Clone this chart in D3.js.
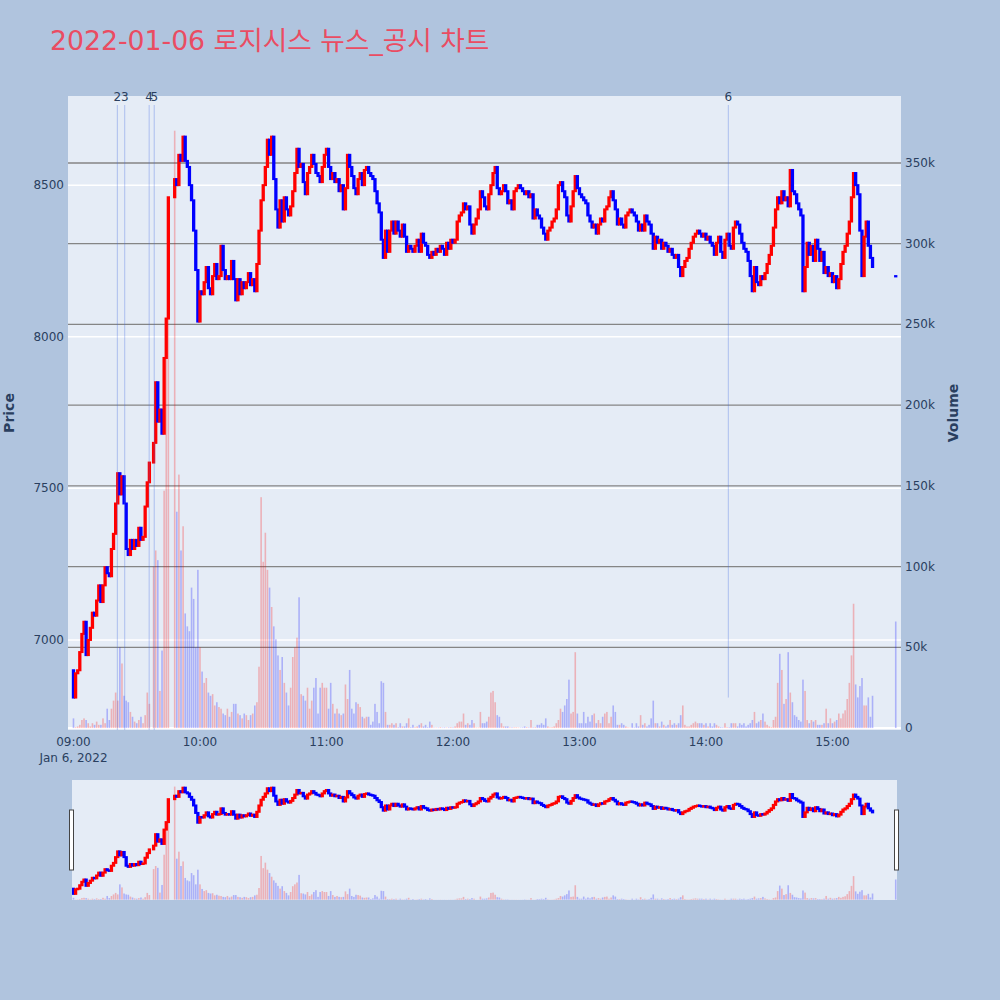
<!DOCTYPE html>
<html>
<head>
<meta charset="utf-8">
<script src="https://cdn.jsdelivr.net/npm/d3@7"></script>
<style>
  body { margin: 0; background: #b0c4de; }
  text { font-family: "DejaVu Sans", "Noto Sans CJK KR", sans-serif; }
</style>
</head>
<body>
<svg id="chart"></svg>
<script>
// one close per minute from 09:00, null = trading halt (VI)
const sessionStart = '2022-01-06 09:00:00';
const firstOpen = 6900;
const closes = [
  6810, 6890, 6900, 6960, 7020, 7060, 6950, 7000, 7040, 7090,
  7080, 7130, 7180, 7125, 7180, 7240, 7220, 7210, 7300, 7350,
  7450, 7550, 7480, 7540, 7450, 7300, 7280, 7330, 7300, 7330,
  7310, 7370, 7330, 7340, 7440, 7520, 7585, null, 7650, 7850,
  7720, 7760, 7680, 7930, 8060, 8460, null, null, 8520, 8500,
  8600, 8580, 8660, 8580, 8560, 8500, 8450, 8350, 8220, 8050,
  8150, 8140, 8180, 8230, 8160, 8140, 8200, 8240, 8190, 8200,
  8300, 8220, 8190, 8200, 8190, 8250, 8190, 8120, 8190, 8140,
  8180, 8160, 8180, 8210, 8170, 8190, 8150, 8240, 8350, 8450,
  8500, 8560, 8650, 8600, 8660, 8520, 8420, 8360, 8450, 8380,
  8460, 8420, 8400, 8430, 8480, 8540, 8620, 8560, 8570, 8510,
  8470, 8540, 8560, 8600, 8570, 8540, 8530, 8510, 8560, 8600,
  8620, 8560, 8520, 8540, 8510, 8520, 8480, 8500, 8420, 8490,
  8600, 8560, 8530, 8490, 8470, 8520, 8540, 8500, 8550, 8560,
  8540, 8530, 8520, 8480, 8440, 8410, 8320, 8260, 8350, 8280,
  8350, 8380, 8340, 8380, 8350, 8330, 8370, 8330, 8280, 8300,
  8290, 8280, 8300, 8320, 8280, 8340, 8310, 8300, 8270, 8260,
  8280, 8270, 8290, 8280, 8300, 8290, 8270, 8310, 8290, 8320,
  8310, 8320, 8380, 8400, 8410, 8440, 8420, 8430, 8370, 8340,
  8370, 8390, 8420, 8480, 8460, 8430, 8420, 8470, 8500, 8540,
  8560, 8490, 8470, 8480, 8500, 8480, 8440, 8450, 8420, 8480,
  8490, 8500, 8490, 8480, 8470, 8480, 8460, 8470, 8390, 8420,
  8400, 8390, 8360, 8340, 8320, 8350, 8360, 8380, 8390, 8420,
  8500, 8510, 8480, 8460, 8400, 8380, 8430, 8480, 8530, 8490,
  8470, 8460, 8450, 8440, 8400, 8380, 8360, 8370, 8340, 8370,
  8390, 8380, 8420, 8430, 8460, 8480, 8450, 8420, 8370, 8390,
  8370, 8360, 8400, 8410, 8420, 8410, 8400, 8380, 8350, 8370,
  8350, 8400, 8380, 8370, 8340, 8290, 8330, 8310, 8320, 8290,
  8310, 8300, 8280, 8290, 8270, 8260, 8270, 8230, 8200, 8230,
  8250, 8260, 8290, 8310, 8330, 8340, 8350, 8340, 8330, 8340,
  8320, 8330, 8310, 8300, 8270, 8310, 8330, 8280, 8260, 8320,
  8340, 8300, 8290, 8360, 8380, 8370, 8340, 8310, 8290, 8280,
  8250, 8200, 8150, 8230, 8180, 8170, 8200, 8190, 8210, 8240,
  8270, 8300, 8360, 8420, 8460, 8440, 8480, 8450, 8460, 8430,
  8550, 8480, 8470, 8440, 8420, 8400, 8150, 8230, 8310, 8270,
  8300, 8250, 8320, 8290, 8250, 8280, 8210, 8230, 8200, 8210,
  8180, 8200, 8160, 8190, 8240, 8280, 8300, 8340, 8380, 8460,
  8540, 8500, 8470, 8350, 8200, 8330, 8380, 8300, 8260, 8230
];
// volume per minute, thousands of shares
const volumes = [
  6, 0.5, 1, 2, 5, 6, 5, 3, 1, 3,
  2, 4, 2, 2, 6, 3, 12, 5, 12, 17,
  22, 17, 50, 40, 20, 17, 16, 10, 7, 4,
  3, 5, 7, 3, 8, 22, 15, 0, 100, 110,
  104, 23, 48, 147, 250, 265, 0, 0, 370, 134,
  157, 110, 125, 71, 63, 60, 87, 80, 50, 98,
  50, 35, 28, 31, 22, 20, 21, 14, 16, 13,
  12, 9, 8, 12, 7, 10, 15, 15, 9, 8,
  6, 9, 8, 5, 8, 9, 14, 16, 38, 143,
  103, 121, 98, 87, 75, 63, 55, 45, 36, 44,
  28, 22, 14, 25, 44, 50, 56, 81, 21, 20,
  17, 25, 12, 17, 25, 31, 9, 25, 28, 25,
  25, 12, 28, 15, 9, 12, 9, 8, 9, 27,
  18, 36, 12, 9, 16, 15, 13, 7, 6, 7,
  7, 2, 4, 15, 10, 3, 29, 28, 10, 2,
  2, 3, 2, 3, 0.5, 3, 1, 1, 3, 6,
  0.5, 2, 0.5, 1, 2, 3, 1, 2, 0.5, 4,
  2, 0.3, 0.3, 0.3, 0.5, 0.3, 0.4, 0.3, 0.4, 0.5,
  0.4, 1, 3, 4, 4, 9, 2, 3, 2, 5,
  3, 0.3, 0.3, 10, 3, 3, 4, 7, 22, 23,
  16, 8, 7, 3, 1, 1, 1, 0.4, 0.4, 0.4,
  0.4, 0.3, 0.3, 0.4, 1, 0.5, 0.4, 5, 0.4, 0.5,
  2, 2, 3, 2, 6, 1, 0.4, 0.5, 1, 3,
  5, 12, 10, 14, 18, 30, 9, 10, 47, 9,
  3, 3, 10, 3, 7, 4, 8, 9, 3, 5,
  3, 7, 9, 10, 3, 7, 14, 10, 2, 2,
  3, 2, 1, 0.4, 0.3, 3, 0.4, 3, 1, 8,
  2, 3, 1, 2, 6, 17, 3, 3, 1, 4,
  2, 1, 2, 5, 2, 3, 2, 3, 8, 14,
  2, 1, 1, 2, 3, 4, 3, 3, 3, 2,
  3, 1, 3, 1, 3, 2, 1, 0.5, 0.4, 3,
  0.5, 0.5, 3, 3, 3, 1, 3, 2, 3, 1,
  2, 3, 5, 10, 3, 4, 5, 9, 4, 2,
  1, 0.5, 5, 7, 28, 46, 36, 15, 18, 47,
  22, 16, 8, 7, 5, 4, 30, 23, 5, 3,
  5, 4, 5, 2, 2, 2, 3, 12, 3, 6,
  3, 4, 5, 9, 6, 9, 11, 18, 28, 45,
  77, 27, 19, 26, 31, 14, 14, 19, 7, 20
];
// closing single-price auction
const auctionTimes = ['2022-01-06 15:30:00'];
const auctionPrices = [8200];
const auctionVolumes = [66];

// news / disclosure marks
const newsLabels = ['2', '3', '4', '5', '6'];
const newsTimes = ['2022-01-06 09:20:48', '2022-01-06 09:24:18', '2022-01-06 09:35:54', '2022-01-06 09:38:18', '2022-01-06 14:10:36'];
const newsLows = [6700, 6700, 6700, 6700, 6810];

const priceTicks = [7000, 7500, 8000, 8500];
const volumeTicks = [0, 50000, 100000, 150000, 200000, 250000, 300000, 350000];

const W = 1000, H = 1000;
const upColor = '#ff0000', downColor = '#0000ff';
const parse = d3.timeParse('%Y-%m-%d %H:%M:%S');

// build candles
const t0 = parse(sessionStart);
const candles = [];
let prev = firstOpen;
closes.forEach((c, i) => {
  if (c == null) return;
  candles.push({ t: d3.timeMinute.offset(t0, i), open: prev, close: c, volume: volumes[i] * 1000 });
  prev = c;
});
auctionTimes.forEach((s, i) => {
  candles.push({ t: parse(s), open: auctionPrices[i], close: auctionPrices[i], volume: auctionVolumes[i] * 1000 });
});
const colorOf = (d) => (d.close > d.open ? upColor : downColor);

const svg = d3.select('#chart').attr('width', W).attr('height', H);
svg.append('rect').attr('width', W).attr('height', H).attr('fill', '#b0c4de');

// main plot area
const plot = { left: 68, right: 901, top: 96, bottom: 730 };
const x = d3.scaleTime()
  .domain([parse('2022-01-06 08:57:24'), parse('2022-01-06 15:32:30')])
  .range([plot.left, plot.right]);
const y = d3.scaleLinear().domain([6703, 8794]).range([plot.bottom, plot.top]);
const yVol = d3.scaleLinear().domain([-1200, 391500]).range([plot.bottom, plot.top]);

// range slider area
const slider = { left: 72, right: 897, top: 780, bottom: 900 };
const ys = y.copy().range([slider.bottom, slider.top]);
const yVolS = yVol.copy().range([slider.bottom, slider.top]);

const defs = svg.append('defs');
defs.append('clipPath').attr('id', 'clip-main').append('rect')
  .attr('x', plot.left).attr('y', plot.top)
  .attr('width', plot.right - plot.left).attr('height', plot.bottom - plot.top);
defs.append('clipPath').attr('id', 'clip-slider').append('rect')
  .attr('x', slider.left).attr('y', slider.top)
  .attr('width', slider.right - slider.left).attr('height', slider.bottom - slider.top);

// Background
svg.append('rect')
  .attr('x', plot.left).attr('y', plot.top)
  .attr('width', plot.right - plot.left).attr('height', plot.bottom - plot.top)
  .attr('fill', '#e5ecf6');

// Gridlines
svg.append('g').selectAll('line').data(priceTicks).join('line')
  .attr('x1', plot.left).attr('x2', plot.right)
  .attr('y1', (d) => y(d)).attr('y2', (d) => y(d))
  .attr('stroke', '#ffffff').attr('stroke-width', 1.5);

svg.append('g').selectAll('line').data(volumeTicks.filter((d) => d > 0)).join('line')
  .attr('x1', plot.left).attr('x2', plot.right)
  .attr('y1', (d) => yVol(d)).attr('y2', (d) => yVol(d))
  .attr('stroke', '#858585').attr('stroke-width', 1.3);

svg.append('line')
  .attr('x1', plot.left).attr('x2', plot.right)
  .attr('y1', yVol(0)).attr('y2', yVol(0))
  .attr('stroke', '#ffffff').attr('stroke-width', 2);

const barW = 1.6;
const bodyW = 1.3;

function drawTraces(g, yP, yV) {
  // volume bars
  g.append('g').selectAll('rect').data(candles).join('rect')
    .attr('x', (d) => x(d.t) - barW / 2)
    .attr('width', barW)
    .attr('y', (d) => yV(d.volume))
    .attr('height', (d) => Math.max(0, yV(0) - yV(d.volume)))
    .attr('fill', colorOf)
    .attr('opacity', 0.25);

  // candles
  g.append('g').selectAll('rect').data(candles).join('rect')
    .attr('x', (d) => x(d.t) - bodyW / 2)
    .attr('width', bodyW)
    .attr('y', (d) => yP(Math.max(d.open, d.close)))
    .attr('height', (d) => Math.max(0.3, Math.abs(yP(d.open) - yP(d.close))))
    .attr('fill', colorOf)
    .attr('stroke', colorOf)
    .attr('stroke-width', 2);
}

const main = svg.append('g').attr('clip-path', 'url(#clip-main)');
drawTraces(main, y, yVol);

// news lines + labels
const news = newsTimes.map((s, i) => ({ t: parse(s), label: newsLabels[i], low: newsLows[i] }));
svg.append('g').selectAll('line').data(news).join('line')
  .attr('x1', (d) => x(d.t)).attr('x2', (d) => x(d.t))
  .attr('y1', plot.top + 9).attr('y2', (d) => Math.min(plot.bottom, y(d.low)))
  .attr('stroke', '#4169e1').attr('stroke-opacity', 0.35).attr('stroke-width', 1);

svg.append('g').selectAll('text').data(news).join('text')
  .attr('x', (d) => x(d.t)).attr('y', plot.top + 5)
  .attr('text-anchor', 'middle')
  .attr('font-size', 12).attr('fill', '#2a3f5f')
  .text((d) => d.label);

// Axes labels
svg.append('g').selectAll('text').data(priceTicks).join('text')
  .attr('x', plot.left - 4).attr('y', (d) => y(d) + 4)
  .attr('text-anchor', 'end').attr('font-size', 12).attr('fill', '#2a3f5f')
  .text((d) => d);

svg.append('g').selectAll('text').data(volumeTicks).join('text')
  .attr('x', plot.right + 4).attr('y', (d) => yVol(d) + 4)
  .attr('text-anchor', 'start').attr('font-size', 12).attr('fill', '#2a3f5f')
  .text((d) => (d === 0 ? '0' : d3.format('~s')(d)));

const hourTicks = d3.timeHour.range(parse('2022-01-06 09:00:00'), parse('2022-01-06 15:00:01'));
svg.append('g').selectAll('text').data(hourTicks).join('text')
  .attr('x', (d) => x(d)).attr('y', plot.bottom + 16)
  .attr('text-anchor', 'middle').attr('font-size', 12).attr('fill', '#2a3f5f')
  .text(d3.timeFormat('%H:%M'));

svg.append('text')
  .attr('x', x(hourTicks[0])).attr('y', plot.bottom + 32)
  .attr('text-anchor', 'middle').attr('font-size', 12).attr('fill', '#2a3f5f')
  .text(d3.timeFormat('%b %-d, %Y')(hourTicks[0]));

svg.append('text')
  .attr('transform', `translate(14, ${(plot.top + plot.bottom) / 2}) rotate(-90)`)
  .attr('text-anchor', 'middle').attr('font-size', 14).attr('font-weight', 'bold')
  .attr('fill', '#2a3f5f')
  .text('Price');

svg.append('text')
  .attr('transform', `translate(958, ${(plot.top + plot.bottom) / 2}) rotate(-90)`)
  .attr('text-anchor', 'middle').attr('font-size', 14).attr('font-weight', 'bold')
  .attr('fill', '#2a3f5f')
  .text('Volume');

// Title
svg.append('text')
  .attr('x', 50).attr('y', 50)
  .attr('font-size', 26.7).attr('fill', '#ea4c62')
  .text('2022-01-06 로지시스 뉴스_공시 차트');

// Range slider
svg.append('rect')
  .attr('x', slider.left).attr('y', slider.top)
  .attr('width', slider.right - slider.left).attr('height', slider.bottom - slider.top)
  .attr('fill', '#e5ecf6');
const mini = svg.append('g').attr('clip-path', 'url(#clip-slider)');
drawTraces(mini, ys, yVolS);

svg.append('g').selectAll('rect').data([slider.left, slider.right]).join('rect')
  .attr('x', (d) => d - 2.5).attr('y', 810)
  .attr('width', 4).attr('height', 60)
  .attr('fill', '#ffffff').attr('stroke', '#444').attr('stroke-width', 1);
</script>
</body>
</html>
